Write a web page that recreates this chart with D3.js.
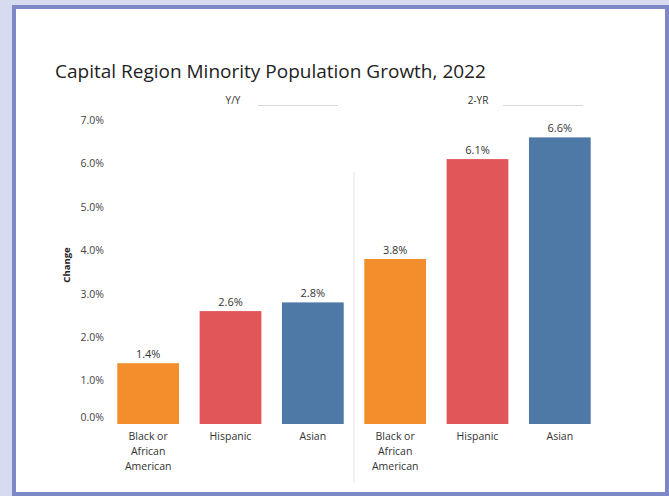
<!DOCTYPE html>
<html>
<head>
<meta charset="utf-8">
<script src="https://cdn.jsdelivr.net/npm/d3@7"></script>
<style>
  html, body { margin: 0; padding: 0; background: #d7dbf0; }
  svg { display: block; }
  text { font-family: "Open Sans", "Noto Sans", sans-serif; }
</style>
</head>
<body>
<svg id="chart" width="669" height="496"></svg>
<script>
// Data
const title = "Capital Region Minority Population Growth, 2022";
const panels = ["Y/Y", "2-YR"];
const groups = ["Black or African American", "Hispanic", "Asian"];
const groupLines = [["Black or", "African", "American"], ["Hispanic"], ["Asian"]];
const yoyValues = [1.4, 2.6, 2.8];
const twoYearValues = [3.8, 6.1, 6.6];
const yTicks = [0, 1, 2, 3, 4, 5, 6, 7];
const colors = ["#f28e2b", "#e15759", "#4e79a7"];

const seriesByPanel = [yoyValues, twoYearValues];

const svg = d3.select("#chart");

// Card frame
svg.append("rect")
  .attr("x", 0).attr("y", 0).attr("width", 669).attr("height", 496)
  .attr("fill", "#d7dbf0");
svg.append("rect")
  .attr("x", 14).attr("y", 7).attr("width", 653).attr("height", 487)
  .attr("fill", "#ffffff")
  .attr("stroke", "#7f88c6").attr("stroke-width", 4);

// Title
svg.append("text")
  .attr("x", 55).attr("y", 78)
  .attr("font-size", 19)
  .attr("fill", "#222")
  .text(title);

// Scales
const y = d3.scaleLinear().domain([0, 7]).range([424, 120]);
const panelX = d3.scaleBand().domain(panels).range([107, 601]).padding(0);
const innerX = d3.scaleBand().domain(groups).range([0, panelX.bandwidth()]).paddingInner(0.25).paddingOuter(0.125);

// Y axis
const yAxis = d3.axisLeft(y)
  .tickValues(yTicks)
  .tickSize(0)
  .tickPadding(0)
  .tickFormat(d => d3.format(".1f")(d) + "%");
const yG = svg.append("g")
  .attr("transform", "translate(104,0)")
  .call(yAxis);
yG.select(".domain").remove();
yG.selectAll("text")
  .attr("font-size", 10.5)
  .attr("fill", "#444")
  .attr("font-family", "'Open Sans', 'Noto Sans', sans-serif");
// keep the zero label inside the plot area
yG.selectAll(".tick").filter(d => d === 0).select("text").attr("dy", "-0.35em");

// Y axis title
svg.append("text")
  .attr("transform", "translate(70,265) rotate(-90)")
  .attr("text-anchor", "middle")
  .attr("font-size", 9.5)
  .attr("font-weight", "bold")
  .attr("fill", "#222")
  .text("Change");

// Panel separator
svg.append("line")
  .attr("x1", panelX("2-YR")).attr("x2", panelX("2-YR"))
  .attr("y1", 172).attr("y2", 483)
  .attr("stroke", "#e4e4e4").attr("stroke-width", 1);

// Panel headers
panels.forEach((p, i) => {
  const hx = i === 0 ? 233 - panelX(p) : 478 - panelX(p);
  const g = svg.append("g").attr("transform", `translate(${panelX(p)},0)`);
  g.append("text")
    .attr("x", hx).attr("y", 104)
    .attr("text-anchor", "middle")
    .attr("font-size", 10)
    .attr("fill", "#333")
    .text(p);
  g.append("line")
    .attr("x1", hx + 25).attr("x2", hx + 105)
    .attr("y1", 105.5).attr("y2", 105.5)
    .attr("stroke", "#d8d8d8").attr("stroke-width", 1);
});

// Bars, value labels and category labels
panels.forEach((p, pi) => {
  const g = svg.append("g").attr("transform", `translate(${panelX(p)},0)`);
  const vals = seriesByPanel[pi];
  const data = groups.map((grp, i) => ({ grp, value: vals[i], color: colors[i], lines: groupLines[i] }));

  g.selectAll("rect.bar")
    .data(data)
    .join("rect")
    .attr("class", "bar")
    .attr("x", d => innerX(d.grp))
    .attr("width", innerX.bandwidth())
    .attr("y", d => y(d.value))
    .attr("height", d => y(0) - y(d.value))
    .attr("fill", d => d.color);

  g.selectAll("text.val")
    .data(data)
    .join("text")
    .attr("class", "val")
    .attr("x", d => innerX(d.grp) + innerX.bandwidth() / 2)
    .attr("y", d => y(d.value) - 5)
    .attr("text-anchor", "middle")
    .attr("font-size", 11)
    .attr("fill", "#333")
    .text(d => d3.format(".1f")(d.value) + "%");

  const lab = g.selectAll("text.cat")
    .data(data)
    .join("text")
    .attr("class", "cat")
    .attr("x", d => innerX(d.grp) + innerX.bandwidth() / 2)
    .attr("y", 440)
    .attr("text-anchor", "middle")
    .attr("font-size", 10.5)
    .attr("fill", "#333");
  lab.selectAll("tspan")
    .data(d => d.lines.map(t => ({ t, x: innerX(d.grp) + innerX.bandwidth() / 2 })))
    .join("tspan")
    .attr("x", d => d.x)
    .attr("dy", (d, i) => i === 0 ? 0 : 15)
    .text(d => d.t);
});
</script>
</body>
</html>
